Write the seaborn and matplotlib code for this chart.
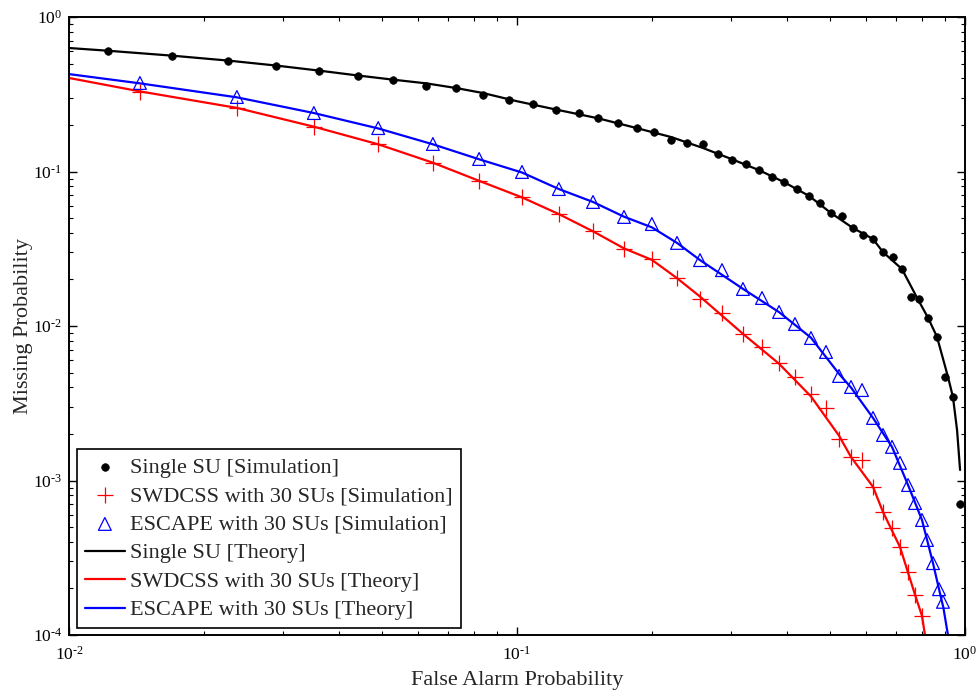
import matplotlib
matplotlib.use("Agg")
import matplotlib.pyplot as plt
from matplotlib.ticker import FuncFormatter, LogLocator
import seaborn as sns
import numpy as np
import pandas as pd

# ---------------- data ----------------
single_sim_x = [0.0122, 0.0170, 0.0227, 0.0290, 0.0361, 0.0442, 0.0529, 0.0627, 0.0731, 0.0840,
                0.0960, 0.1086, 0.1220, 0.1375, 0.1517, 0.1680, 0.1850, 0.2020, 0.2210, 0.2395,
                0.2600, 0.2810, 0.3020, 0.3240, 0.3470, 0.3710, 0.3940, 0.4220, 0.4490, 0.4750,
                0.5020, 0.5310, 0.5620, 0.5920, 0.6230, 0.6560, 0.6900, 0.7230, 0.7570, 0.7890,
                0.8270, 0.8660, 0.9020, 0.9400, 0.9750]
single_sim_y = [0.602, 0.559, 0.519, 0.482, 0.447, 0.415, 0.391, 0.358, 0.347, 0.313,
                0.290, 0.273, 0.250, 0.239, 0.222, 0.206, 0.191, 0.180, 0.160, 0.153,
                0.151, 0.130, 0.119, 0.112, 0.102, 0.0921, 0.0855, 0.0770, 0.0694, 0.0625,
                0.0539, 0.0515, 0.0431, 0.0388, 0.0366, 0.0301, 0.0280, 0.0234, 0.0154, 0.0150,
                0.01127, 0.00849, 0.00468, 0.00347, 0.000705]

swd_sim_x = [0.0144, 0.0237, 0.0352, 0.0490, 0.0649, 0.0823, 0.1026, 0.1240, 0.1478, 0.1733,
             0.2000, 0.2276, 0.2562, 0.2868, 0.3194, 0.3523, 0.3845, 0.4173, 0.4531, 0.4895,
             0.5234, 0.5566, 0.5890, 0.6233, 0.6561, 0.6872, 0.7160, 0.7462, 0.7736, 0.8017]
swd_sim_y = [0.327, 0.2576, 0.194, 0.1507, 0.1135, 0.0868, 0.0684, 0.0531, 0.0412, 0.0315,
             0.0271, 0.0204, 0.0150, 0.01214, 0.00888, 0.00731, 0.00576, 0.00468, 0.00363, 0.00295,
             0.00186, 0.00142, 0.00136, 0.000908, 0.000625, 0.000493, 0.000371, 0.000256, 0.000182, 0.000133]

esc_sim_x = [0.0144, 0.0237, 0.0352, 0.0490, 0.0649, 0.0823, 0.1026, 0.1240, 0.1478, 0.1733,
             0.2000, 0.2276, 0.2562, 0.2868, 0.3194, 0.3523, 0.3845, 0.4173, 0.4531, 0.4895,
             0.5234, 0.5566, 0.5890, 0.6233, 0.6561, 0.6872, 0.7160, 0.7462, 0.7736, 0.8017,
             0.8226, 0.8483, 0.8750, 0.8930]
esc_sim_y = [0.374, 0.3035, 0.239, 0.191, 0.1507, 0.1205, 0.0993, 0.0770, 0.0635, 0.0508,
             0.0457, 0.0345, 0.0267, 0.0230, 0.01736, 0.01518, 0.01232, 0.01030, 0.00836, 0.00679,
             0.00475, 0.00403, 0.00385, 0.00254, 0.00197, 0.00165, 0.00130, 0.000935, 0.000715, 0.000555,
             0.000412, 0.000292, 0.000198, 0.000164]

single_th_x = [0.01, 0.0122, 0.017, 0.0227, 0.029, 0.0361, 0.0442, 0.0529, 0.0627, 0.0731,
               0.084, 0.1, 0.122, 0.1517, 0.185, 0.221, 0.26, 0.302, 0.347, 0.394,
               0.449, 0.502, 0.562, 0.623, 0.656, 0.723, 0.78, 0.827, 0.866, 0.916,
               0.94, 0.96, 0.975]
single_th_y = [0.63, 0.605, 0.562, 0.522, 0.485, 0.450, 0.418, 0.393, 0.372, 0.347,
               0.322, 0.285, 0.252, 0.221, 0.191, 0.167, 0.142, 0.120, 0.102, 0.0855,
               0.0694, 0.0539, 0.0431, 0.0366, 0.0301, 0.0234, 0.0154, 0.0113, 0.0085, 0.0047,
               0.00347, 0.00212, 0.00117]

swd_th_x = [0.01, 0.0144, 0.0237, 0.0352, 0.049, 0.0649, 0.0823, 0.1026, 0.124, 0.1478,
            0.1733, 0.2, 0.2276, 0.2562, 0.3194, 0.3845, 0.4531, 0.5234, 0.5566, 0.6233,
            0.6561, 0.716, 0.7736, 0.8017, 0.814]
swd_th_y = [0.403, 0.330, 0.258, 0.195, 0.150, 0.114, 0.087, 0.068, 0.053, 0.041,
            0.0318, 0.0268, 0.0204, 0.0155, 0.0089, 0.0057, 0.0035, 0.00195, 0.00142, 0.00091,
            0.000625, 0.000371, 0.000182, 0.000133, 0.0001]

esc_th_x = [0.01, 0.0144, 0.0237, 0.0352, 0.049, 0.0649, 0.0823, 0.1026, 0.124, 0.1478,
            0.1733, 0.2, 0.2276, 0.2562, 0.3194, 0.3845, 0.4531, 0.5234, 0.5566, 0.6233,
            0.6872, 0.7462, 0.8017, 0.8483, 0.875, 0.895, 0.916]
esc_th_y = [0.427, 0.372, 0.302, 0.239, 0.190, 0.150, 0.120, 0.0985, 0.077, 0.0635,
            0.051, 0.0435, 0.0345, 0.0267, 0.0174, 0.0123, 0.0084, 0.0049, 0.0040, 0.00254,
            0.00165, 0.000935, 0.000555, 0.000292, 0.000198, 0.000150, 0.0001]

labels = ["Single SU [Simulation]", "SWDCSS with 30 SUs [Simulation]", "ESCAPE with 30 SUs [Simulation]",
          "Single SU [Theory]", "SWDCSS with 30 SUs [Theory]", "ESCAPE with 30 SUs [Theory]"]

# ---------------- style ----------------
sns.set_style("ticks")
plt.rcParams["font.family"] = ["Liberation Serif", "DejaVu Serif"]
plt.rcParams["mathtext.fontset"] = "custom"
plt.rcParams["mathtext.rm"] = "Liberation Serif"
plt.rcParams["mathtext.it"] = "Liberation Serif:italic"
plt.rcParams["mathtext.bf"] = "Liberation Serif:bold"

fig = plt.figure(figsize=(9.76, 6.96), dpi=100)
ax = fig.add_axes([69/976, 1-635/696, (965-69)/976, (635-17)/696])

# theory lines
for xs, ys, col, lab in [(single_th_x, single_th_y, "black", labels[3]),
                         (swd_th_x, swd_th_y, "#ff0000", labels[4]),
                         (esc_th_x, esc_th_y, "#0000ff", labels[5])]:
    sns.lineplot(x=xs, y=ys, ax=ax, color=col, linewidth=1.6, sort=False,
                 estimator=None, label=lab)

# simulation markers
sns.scatterplot(x=single_sim_x, y=single_sim_y, ax=ax, marker="o", s=30,
                color="black", edgecolor="black", linewidth=0.5, label=labels[0], zorder=3)
sns.scatterplot(x=swd_sim_x, y=swd_sim_y, ax=ax, marker="+", s=130,
                color="#ff0000", linewidth=0.9, label=labels[1], zorder=3)
sns.scatterplot(x=esc_sim_x, y=esc_sim_y, ax=ax, marker="^", s=85,
                facecolor="none", edgecolor="#0000ff", linewidth=0.9, label=labels[2], zorder=3)

ax.set_xscale("log")
ax.set_yscale("log")
ax.set_xlim(1e-2, 1e0)
ax.set_ylim(1e-4, 1e0)


def pow10(v, pos):
    e = int(round(np.log10(v)))
    if e < 0:
        return r"$10^{\text{-}%d}$" % (-e)
    return r"$10^{%d}$" % e


ax.xaxis.set_major_locator(LogLocator(base=10))
ax.yaxis.set_major_locator(LogLocator(base=10))
ax.xaxis.set_major_formatter(FuncFormatter(pow10))
ax.yaxis.set_major_formatter(FuncFormatter(pow10))

ax.set_xlabel("False Alarm Probability", fontsize=16, labelpad=5)
ax.set_ylabel("Missing Probability", fontsize=16, labelpad=0)

ax.tick_params(which="both", direction="in", top=True, right=True, labelsize=12.5, colors="black")
ax.tick_params(which="major", length=6, width=1.0)
ax.tick_params(axis="x", which="major", pad=8)
ax.tick_params(axis="y", which="major", pad=5)
ax.tick_params(which="minor", length=3, width=0.8)
for sp in ax.spines.values():
    sp.set_visible(True)
    sp.set_linewidth(1.4)
    sp.set_color("black")

handles, labs = ax.get_legend_handles_labels()
order = [labs.index(l) for l in labels]
leg = ax.legend([handles[i] for i in order], [labs[i] for i in order],
                loc="lower left", bbox_to_anchor=(0.009, 0.011), borderaxespad=0,
                fontsize=16, frameon=True, fancybox=False, framealpha=1, edgecolor="black",
                handlelength=1.8, handletextpad=0.25, labelspacing=0.36, borderpad=0.35,
                scatterpoints=1)
leg.get_frame().set_linewidth(1.2)

fig.savefig("out.png", dpi=100)
